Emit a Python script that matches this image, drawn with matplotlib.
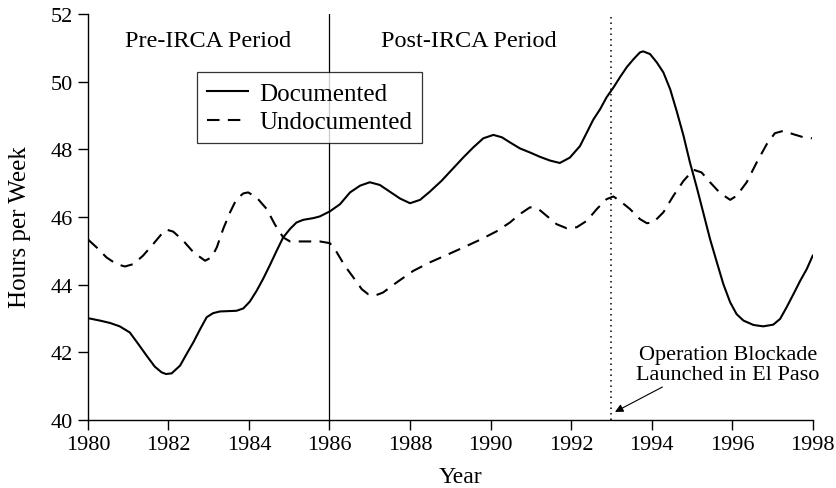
import matplotlib
matplotlib.use("Agg")
import matplotlib.pyplot as plt

plt.rcParams['font.family'] = ['Liberation Serif', 'DejaVu Serif']

doc_years = [1980.01, 1980.30, 1980.55, 1980.79, 1981.04, 1981.25, 1981.46, 1981.66,
             1981.83, 1981.94, 1982.08, 1982.29, 1982.45, 1982.62, 1982.78, 1982.95,
             1983.11, 1983.28, 1983.69, 1983.86, 1984.02, 1984.19, 1984.35, 1984.52,
             1984.69, 1984.85, 1985.02, 1985.18, 1985.35, 1985.60, 1985.76, 1986.01,
             1986.26, 1986.51, 1986.76, 1987.00, 1987.25, 1987.50, 1987.75, 1988.00,
             1988.25, 1988.49, 1988.78, 1989.07, 1989.32, 1989.57, 1989.82, 1990.07,
             1990.28, 1990.48, 1990.73, 1990.98, 1991.23, 1991.48, 1991.72, 1991.97,
             1992.22, 1992.39, 1992.55, 1992.72, 1992.88, 1993.05, 1993.21, 1993.38,
             1993.55, 1993.71, 1993.79, 1993.96, 1994.13, 1994.29, 1994.46, 1994.62,
             1994.79, 1994.95, 1995.12, 1995.28, 1995.45, 1995.62, 1995.78, 1995.95,
             1996.11, 1996.28, 1996.53, 1996.77, 1997.02, 1997.19, 1997.35, 1997.52,
             1997.69, 1997.85, 1998.0]
doc_hours = [43.01, 42.94, 42.87, 42.77, 42.59, 42.25, 41.90, 41.58,
             41.41, 41.36, 41.38, 41.61, 41.95, 42.30, 42.67, 43.04,
             43.16, 43.21, 43.23, 43.30, 43.50, 43.82, 44.17, 44.58,
             45.01, 45.40, 45.65, 45.84, 45.92, 45.97, 46.02, 46.17,
             46.38, 46.73, 46.93, 47.03, 46.95, 46.75, 46.55, 46.41,
             46.51, 46.75, 47.07, 47.44, 47.76, 48.06, 48.33, 48.43,
             48.36, 48.21, 48.03, 47.91, 47.78, 47.67, 47.60, 47.76,
             48.10, 48.50, 48.88, 49.19, 49.54, 49.83, 50.13, 50.43,
             50.67, 50.87, 50.90, 50.82, 50.57, 50.28, 49.78, 49.14,
             48.41, 47.62, 46.88, 46.14, 45.35, 44.66, 44.02, 43.48,
             43.13, 42.94, 42.81, 42.77, 42.82, 42.99, 43.33, 43.72,
             44.12, 44.46, 44.86]

und_years = [1980.01, 1980.22, 1980.46, 1980.71, 1980.92, 1981.13, 1981.37, 1981.62,
             1981.83, 1981.95, 1982.12, 1982.37, 1982.62, 1982.91, 1983.07, 1983.20,
             1983.36, 1983.53, 1983.69, 1983.86, 1983.98, 1984.19, 1984.44, 1984.64,
             1984.85, 1985.02, 1985.76, 1986.01, 1986.18, 1986.38, 1986.59, 1986.80,
             1986.96, 1987.13, 1987.33, 1987.67, 1988.08, 1988.49, 1988.91, 1989.32,
             1989.74, 1990.15, 1990.48, 1990.73, 1990.98, 1991.19, 1991.39, 1991.64,
             1991.89, 1992.14, 1992.39, 1992.64, 1992.88, 1993.05, 1993.21, 1993.46,
             1993.71, 1993.88, 1994.04, 1994.29, 1994.54, 1994.79, 1995.04, 1995.24,
             1995.45, 1995.70, 1995.95, 1996.11, 1996.36, 1996.61, 1996.86, 1997.06,
             1997.27, 1997.52, 1997.77, 1997.98]
und_hours = [45.33, 45.10, 44.81, 44.61, 44.54, 44.61, 44.86, 45.20,
             45.50, 45.63, 45.57, 45.30, 44.96, 44.71, 44.81, 45.10,
             45.65, 46.14, 46.53, 46.70, 46.73, 46.58, 46.24, 45.79,
             45.40, 45.28, 45.28, 45.23, 44.96, 44.56, 44.22, 43.87,
             43.72, 43.68, 43.77, 44.07, 44.41, 44.66, 44.88, 45.10,
             45.33, 45.58, 45.84, 46.09, 46.29, 46.24, 46.04, 45.79,
             45.67, 45.70, 45.89, 46.24, 46.53, 46.61, 46.48, 46.24,
             45.94, 45.82, 45.84, 46.14, 46.63, 47.07, 47.40, 47.32,
             47.03, 46.71, 46.51, 46.63, 47.03, 47.62, 48.16, 48.48,
             48.55, 48.45, 48.36, 48.33]

x_ticks = [1980, 1982, 1984, 1986, 1988, 1990, 1992, 1994, 1996, 1998]
y_ticks = [40, 42, 44, 46, 48, 50, 52]

fig = plt.figure(figsize=(8.37, 4.89), dpi=100)
ax = fig.add_axes([0.105, 0.139, 0.866, 0.830])

ax.plot(doc_years, doc_hours, color='black', lw=1.5, ls='-', label='Documented',
        solid_joinstyle='round')
ax.plot(und_years, und_hours, color='black', lw=1.5, ls=(0, (6, 4)), label='Undocumented')

ax.axvline(1986, color='black', lw=0.9)
ax.axvline(1993, color='black', lw=1.1, ls=(0, (1, 2.6)), ymax=0.995)

ax.set_xlim(1980, 1998)
ax.set_ylim(40, 52)
ax.set_xticks(x_ticks)
ax.set_yticks(y_ticks)
for s in ['top', 'right']:
    ax.spines[s].set_visible(False)
for s in ['left', 'bottom']:
    ax.spines[s].set_linewidth(1.0)
ax.tick_params(direction='out', length=7, width=1.0, labelsize=16, colors='black')

fig.text(20 / 837, 1 - 227 / 489, 'Hours per Week', rotation=90, ha='center',
         va='center', fontsize=18)
fig.text(460 / 837, 1 - 478 / 489, 'Year', ha='center', va='center', fontsize=17)

ax.text(1982.98, 51.22, 'Pre-IRCA Period', ha='center', va='center', fontsize=17.5)
ax.text(1989.46, 51.22, 'Post-IRCA Period', ha='center', va='center', fontsize=17.5)

ax.annotate('Operation Blockade\nLaunched in El Paso', xy=(1993.09, 40.24),
            xytext=(1995.9, 41.64), ha='center', va='center', fontsize=16,
            linespacing=1.1,
            arrowprops=dict(arrowstyle='-|>', color='black', lw=0.8,
                            shrinkA=0, shrinkB=0, mutation_scale=12,
                            relpos=(0.17, 0.0)))

leg = ax.legend(loc='upper left', bbox_to_anchor=(0.150, 0.857), borderaxespad=0,
                fontsize=18, frameon=True, fancybox=False, handlelength=1.65,
                handletextpad=0.45, borderpad=0.4, labelspacing=0.25)
leg.get_frame().set_edgecolor('black')
leg.get_frame().set_linewidth(0.9)

fig.savefig('out.png', dpi=100)
